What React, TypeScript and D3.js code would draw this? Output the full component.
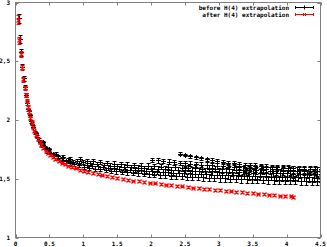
import * as d3 from "d3";

// each point: [x, value, error]
type Pt = [number, number, number];

const afterPts: Pt[] = [
  [0.044, 2.855, 0.035], [0.059, 2.68, 0.03], [0.084, 2.565, 0.025], [0.099, 2.445, 0.022],
  [0.118, 2.345, 0.02], [0.133, 2.27, 0.018], [0.148, 2.215, 0.016], [0.163, 2.16, 0.015],
  [0.18, 2.11, 0.014], [0.198, 2.065, 0.013], [0.217, 2.02, 0.012], [0.237, 1.98, 0.011],
  [0.258, 1.94, 0.01], [0.28, 1.905, 0.01], [0.305, 1.87, 0.009], [0.33, 1.84, 0.009],
  [0.355, 1.81, 0.008], [0.383, 1.785, 0.008], [0.412, 1.76, 0.008], [0.443, 1.74, 0.008],
  [0.475, 1.72, 0.007], [0.51, 1.7, 0.007], [0.55, 1.683, 0.007], [0.59, 1.667, 0.007],
  [0.635, 1.652, 0.007], [0.68, 1.638, 0.007], [0.73, 1.625, 0.007], [0.78, 1.612, 0.007],
  [0.835, 1.6, 0.007], [0.89, 1.588, 0.007], [0.95, 1.577, 0.007], [1.01, 1.567, 0.007],
  [1.075, 1.557, 0.007], [1.14, 1.547, 0.007], [1.21, 1.538, 0.007], [1.28, 1.529, 0.007],
  [1.35, 1.521, 0.007], [1.42, 1.514, 0.007], [1.5, 1.506, 0.007], [1.58, 1.499, 0.007],
  [1.66, 1.492, 0.007], [1.74, 1.485, 0.007], [1.82, 1.479, 0.007], [1.9, 1.473, 0.007],
  [1.98, 1.467, 0.007], [2.06, 1.461, 0.007], [2.14, 1.456, 0.007], [2.22, 1.45, 0.007],
  [2.3, 1.445, 0.007], [2.38, 1.44, 0.007], [2.46, 1.435, 0.007], [2.54, 1.43, 0.007],
  [2.62, 1.425, 0.007], [2.7, 1.42, 0.007], [2.78, 1.415, 0.007], [2.86, 1.411, 0.007],
  [2.94, 1.406, 0.007], [3.02, 1.402, 0.007], [3.1, 1.397, 0.007], [3.18, 1.393, 0.007],
  [3.26, 1.389, 0.007], [3.34, 1.385, 0.007], [3.42, 1.381, 0.007], [3.5, 1.377, 0.007],
  [3.58, 1.373, 0.007], [3.66, 1.369, 0.007], [3.74, 1.365, 0.007], [3.82, 1.361, 0.007],
  [3.9, 1.357, 0.007], [3.98, 1.353, 0.007], [4.06, 1.349, 0.007], [4.1, 1.347, 0.007],
];

const beforeA: Pt[] = [
  [0.045, 2.865, 0.04], [0.06, 2.69, 0.035], [0.085, 2.575, 0.03], [0.1, 2.455, 0.025],
  [0.12, 2.355, 0.022], [0.135, 2.28, 0.02], [0.15, 2.215, 0.018], [0.17, 2.145, 0.016],
  [0.19, 2.09, 0.015], [0.21, 2.04, 0.014], [0.235, 1.99, 0.013], [0.26, 1.942, 0.012],
  [0.29, 1.895, 0.012], [0.32, 1.857, 0.012], [0.355, 1.816, 0.012], [0.39, 1.785, 0.012],
  [0.43, 1.763, 0.012], [0.47, 1.732, 0.013], [0.52, 1.71, 0.013], [0.57, 1.693, 0.013],
  [0.62, 1.678, 0.014], [0.68, 1.662, 0.014], [0.74, 1.648, 0.015], [0.8, 1.636, 0.015],
  [0.87, 1.624, 0.016], [0.94, 1.613, 0.016], [1.01, 1.604, 0.017], [1.09, 1.595, 0.017],
  [1.17, 1.587, 0.018], [1.25, 1.58, 0.018], [1.33, 1.574, 0.019], [1.41, 1.568, 0.019],
  [1.49, 1.563, 0.02], [1.57, 1.558, 0.02], [1.65, 1.554, 0.021], [1.73, 1.55, 0.021],
  [1.81, 1.546, 0.022], [1.89, 1.542, 0.022], [1.97, 1.539, 0.023], [2.05, 1.536, 0.023],
  [2.13, 1.533, 0.024], [2.21, 1.53, 0.024], [2.29, 1.527, 0.025], [2.37, 1.524, 0.025],
  [2.45, 1.521, 0.026], [2.53, 1.518, 0.026], [2.61, 1.516, 0.027], [2.69, 1.513, 0.027],
  [2.77, 1.511, 0.028], [2.85, 1.509, 0.028], [2.93, 1.507, 0.029], [3.01, 1.505, 0.029],
  [3.09, 1.503, 0.03], [3.17, 1.501, 0.03], [3.25, 1.5, 0.03], [3.33, 1.498, 0.031],
  [3.41, 1.497, 0.031], [3.49, 1.495, 0.031], [3.57, 1.494, 0.032], [3.65, 1.493, 0.032],
  [3.73, 1.491, 0.032], [3.81, 1.49, 0.033], [3.89, 1.489, 0.033], [3.97, 1.488, 0.033],
  [4.05, 1.487, 0.034], [4.13, 1.486, 0.034], [4.21, 1.485, 0.034], [4.29, 1.484, 0.035],
  [4.37, 1.483, 0.035], [4.45, 1.482, 0.035],
];

const beforeB: Pt[] = [
  [0.2, 2.075, 0.013], [0.25, 1.97, 0.012], [0.3, 1.89, 0.012], [0.35, 1.832, 0.012],
  [0.4, 1.79, 0.012], [0.45, 1.757, 0.013], [0.5, 1.73, 0.013], [0.56, 1.709, 0.013],
  [0.62, 1.691, 0.014], [0.69, 1.674, 0.014], [0.77, 1.658, 0.015], [0.85, 1.645, 0.016],
  [0.93, 1.633, 0.016], [1.05, 1.62, 0.017], [1.13, 1.612, 0.017], [1.21, 1.605, 0.018],
  [1.29, 1.599, 0.018], [1.37, 1.594, 0.019], [1.45, 1.589, 0.019], [1.53, 1.585, 0.02],
  [1.61, 1.582, 0.02], [1.69, 1.578, 0.021], [1.77, 1.575, 0.021], [1.85, 1.572, 0.022],
  [1.93, 1.568, 0.022], [2.01, 1.565, 0.023], [2.09, 1.562, 0.023], [2.17, 1.559, 0.024],
  [2.25, 1.556, 0.024], [2.33, 1.553, 0.025], [2.41, 1.55, 0.025], [2.49, 1.547, 0.026],
  [2.57, 1.545, 0.026], [2.65, 1.542, 0.027], [2.73, 1.54, 0.027], [2.81, 1.538, 0.028],
  [2.89, 1.536, 0.028], [2.97, 1.534, 0.029], [3.05, 1.532, 0.029], [3.13, 1.53, 0.03],
  [3.21, 1.528, 0.03], [3.29, 1.527, 0.03], [3.37, 1.525, 0.031], [3.45, 1.524, 0.031],
  [3.53, 1.523, 0.031], [3.61, 1.521, 0.032], [3.69, 1.52, 0.032], [3.77, 1.519, 0.032],
  [3.85, 1.518, 0.033], [3.93, 1.516, 0.033], [4.01, 1.515, 0.033], [4.09, 1.514, 0.034],
  [4.17, 1.513, 0.034], [4.25, 1.512, 0.034], [4.33, 1.511, 0.035], [4.41, 1.51, 0.035],
  [4.49, 1.509, 0.035],
];

const beforeC: Pt[] = [
  [0.4, 1.81, 0.012], [0.5, 1.75, 0.013], [0.6, 1.712, 0.014], [0.7, 1.688, 0.014],
  [0.8, 1.668, 0.015], [0.9, 1.652, 0.016], [1.0, 1.64, 0.017], [1.1, 1.631, 0.017],
  [1.2, 1.623, 0.018], [1.3, 1.617, 0.018], [1.4, 1.611, 0.019], [1.5, 1.606, 0.02],
  [1.6, 1.602, 0.02], [1.7, 1.598, 0.021], [1.8, 1.594, 0.022], [1.9, 1.59, 0.022],
  [2.0, 1.587, 0.023], [2.1, 1.584, 0.023], [2.2, 1.581, 0.024], [2.3, 1.578, 0.025],
  [2.4, 1.575, 0.025], [2.5, 1.572, 0.026], [2.6, 1.57, 0.027], [2.7, 1.567, 0.027],
  [2.8, 1.565, 0.028], [2.9, 1.563, 0.028], [3.0, 1.561, 0.029], [3.1, 1.559, 0.03],
  [3.2, 1.557, 0.03], [3.3, 1.555, 0.03], [3.4, 1.553, 0.031], [3.5, 1.552, 0.031],
  [3.6, 1.55, 0.032], [3.7, 1.549, 0.032], [3.8, 1.547, 0.033], [3.9, 1.546, 0.033],
  [4.0, 1.545, 0.033], [4.1, 1.544, 0.034], [4.2, 1.543, 0.034], [4.3, 1.542, 0.035],
  [4.4, 1.541, 0.035], [4.5, 1.54, 0.035],
];

const beforeD: Pt[] = [
  [0.95, 1.665, 0.017], [1.05, 1.655, 0.017], [1.15, 1.647, 0.018], [1.25, 1.64, 0.018],
  [1.35, 1.634, 0.019], [1.45, 1.629, 0.019], [1.55, 1.624, 0.02], [1.65, 1.62, 0.021],
  [1.75, 1.616, 0.021], [1.85, 1.612, 0.022], [1.95, 1.609, 0.022], [2.05, 1.606, 0.023],
  [2.15, 1.603, 0.024], [2.25, 1.6, 0.024], [2.35, 1.597, 0.025], [2.45, 1.594, 0.026],
  [2.55, 1.592, 0.026], [2.65, 1.589, 0.027], [2.75, 1.587, 0.027], [2.85, 1.585, 0.028],
  [2.95, 1.583, 0.029], [3.05, 1.581, 0.029], [3.15, 1.579, 0.03], [3.25, 1.577, 0.03],
  [3.35, 1.575, 0.031], [3.45, 1.574, 0.031], [3.55, 1.572, 0.031], [3.65, 1.571, 0.032],
  [3.75, 1.569, 0.032], [3.85, 1.568, 0.033], [3.95, 1.567, 0.033], [4.05, 1.566, 0.034],
  [4.15, 1.565, 0.034], [4.25, 1.564, 0.034], [4.35, 1.563, 0.035], [4.45, 1.562, 0.035],
];

const beforeE: Pt[] = [
  [2.02, 1.662, 0.018], [2.1, 1.656, 0.018], [2.18, 1.65, 0.019], [2.26, 1.645, 0.019],
  [2.34, 1.64, 0.02], [2.42, 1.635, 0.02], [2.5, 1.631, 0.021], [2.58, 1.627, 0.021],
  [2.66, 1.623, 0.022], [2.74, 1.619, 0.022], [2.82, 1.616, 0.023], [2.9, 1.613, 0.023],
  [2.98, 1.61, 0.024], [3.06, 1.607, 0.024], [3.14, 1.604, 0.025], [3.22, 1.601, 0.025],
  [3.3, 1.597, 0.026], [3.38, 1.594, 0.026], [3.46, 1.591, 0.027], [3.54, 1.588, 0.027],
  [3.62, 1.586, 0.028], [3.7, 1.584, 0.028], [3.78, 1.582, 0.029], [3.86, 1.58, 0.029],
  [3.94, 1.578, 0.03], [4.02, 1.576, 0.03], [4.1, 1.574, 0.031], [4.18, 1.572, 0.031],
  [4.26, 1.571, 0.032], [4.34, 1.569, 0.032], [4.42, 1.568, 0.033], [4.5, 1.566, 0.033],
];

const beforeF: Pt[] = [
  [2.42, 1.712, 0.012], [2.5, 1.702, 0.012], [2.58, 1.692, 0.013], [2.66, 1.683, 0.013],
  [2.74, 1.674, 0.014], [2.82, 1.666, 0.014], [2.9, 1.658, 0.015], [2.98, 1.651, 0.015],
  [3.06, 1.644, 0.016], [3.14, 1.637, 0.016], [3.22, 1.631, 0.017], [3.3, 1.625, 0.017],
  [3.38, 1.62, 0.018], [3.46, 1.615, 0.018], [3.54, 1.611, 0.019], [3.62, 1.607, 0.019],
  [3.7, 1.603, 0.02], [3.78, 1.6, 0.02], [3.86, 1.597, 0.021], [3.94, 1.594, 0.021],
  [4.02, 1.592, 0.022], [4.1, 1.589, 0.022], [4.18, 1.587, 0.023], [4.26, 1.585, 0.023],
  [4.34, 1.583, 0.024], [4.42, 1.581, 0.024], [4.5, 1.579, 0.025],
];

const beforeSeries = [beforeA, beforeB, beforeC, beforeD, beforeE, beforeF];

const xTicks = [0, 0.5, 1, 1.5, 2, 2.5, 3, 3.5, 4, 4.5];
const xTickLabels = ["0", "0.5", "1", "1.5", "2", "2.5", "3", "3.5", "4", "4.5"];
const yTicks = [1, 1.5, 2, 2.5, 3];
const yTickLabels = ["1", "1,5", "2", "2,5", "3"];
const legendLabels = ["before H(4) extrapolation", "after H(4) extrapolation"];
const seriesColors = ["#000000", "#ff0000"];

const W = 327;
const H = 247;
const font = "'DejaVu Sans Mono', monospace";
const borderColor = "#808080";

const x = d3.scaleLinear().domain([0, 4.5]).range([15.5, 320.5]);
const y = d3.scaleLinear().domain([1, 3]).range([237.5, 2.5]);

// error bar + point glyph, all in one path string
function errPath(pts: Pt[], mark: "plus" | "cross") {
  const cap = 2;
  return pts
    .map(([px, v, e]) => {
      const cx = Math.round(x(px)) + 0.5;
      const cy = Math.round(y(v)) + 0.5;
      const lo = Math.round(y(v - e)) + 0.5;
      const hi = Math.round(y(v + e)) + 0.5;
      let d = `M${cx},${lo}V${hi}M${cx - cap},${lo}h${cap * 2}M${cx - cap},${hi}h${cap * 2}`;
      d +=
        mark === "plus"
          ? `M${cx - 2.5},${cy}h5M${cx},${cy - 2.5}v5`
          : `M${cx - 2},${cy - 2}l4,4M${cx - 2},${cy + 2}l4,-4`;
      return d;
    })
    .join("");
}

export default function App() {
  const [x0, x1] = x.range();
  const [y0, y1] = y.range();
  const tick = 3;

  return (
    <svg
      width={W}
      height={H}
      style={{ position: "absolute", left: 0, top: 0, background: "#fff" }}
      fontFamily={font}
      fontSize={6}
      fontWeight="bold"
    >
      <defs>
        <clipPath id="plot">
          <rect x={x0} y={y1} width={x1 - x0} height={y0 - y1} />
        </clipPath>
      </defs>

      {/* ticks, mirrored on all sides */}
      <g stroke={borderColor} strokeWidth={1}>
        {xTicks.map((t) => (
          <g key={t}>
            <line x1={Math.round(x(t)) + 0.5} x2={Math.round(x(t)) + 0.5} y1={y0} y2={y0 - tick} />
            <line x1={Math.round(x(t)) + 0.5} x2={Math.round(x(t)) + 0.5} y1={y1} y2={y1 + tick} />
          </g>
        ))}
        {yTicks.map((t) => (
          <g key={t}>
            <line x1={x0} x2={x0 + tick} y1={Math.round(y(t)) + 0.5} y2={Math.round(y(t)) + 0.5} />
            <line x1={x1} x2={x1 - tick} y1={Math.round(y(t)) + 0.5} y2={Math.round(y(t)) + 0.5} />
          </g>
        ))}
      </g>

      {/* tick labels */}
      {xTicks.map((t, i) => (
        <text key={t} x={x(t)} y={246} textAnchor="middle" fill="#000">
          {xTickLabels[i]}
        </text>
      ))}
      {yTicks.map((t, i) => (
        <text key={t} x={10} y={y(t) + 2} textAnchor="end" fill="#000">
          {yTickLabels[i]}
        </text>
      ))}

      {/* data */}
      <g clipPath="url(#plot)" fill="none" strokeWidth={1}>
        {beforeSeries.map((s, i) => (
          <path key={i} d={errPath(s, "plus")} stroke={seriesColors[0]} />
        ))}
        <path d={errPath(afterPts, "cross")} stroke={seriesColors[1]} strokeWidth={1.2} />
      </g>

      {/* legend */}
      {legendLabels.map((label, i) => {
        const ly = 7.5 + i * 7;
        const lx0 = 295.5;
        const lx1 = 313.5;
        const mx = (lx0 + lx1) / 2;
        return (
          <g key={label}>
            <text x={289} y={ly + 2} textAnchor="end" fill="#000">
              {label}
            </text>
            <path
              d={
                `M${lx0},${ly}H${lx1}M${lx0},${ly - 1.5}v3M${lx1},${ly - 1.5}v3` +
                (i === 0
                  ? `M${mx},${ly - 2}v4`
                  : `M${mx - 1.5},${ly - 1.5}l3,3M${mx - 1.5},${ly + 1.5}l3,-3`)
              }
              stroke={seriesColors[i]}
              fill="none"
            />
          </g>
        );
      })}

      {/* border */}
      <rect x={x0} y={y1} width={x1 - x0} height={y0 - y1} fill="none" stroke={borderColor} />
    </svg>
  );
}
